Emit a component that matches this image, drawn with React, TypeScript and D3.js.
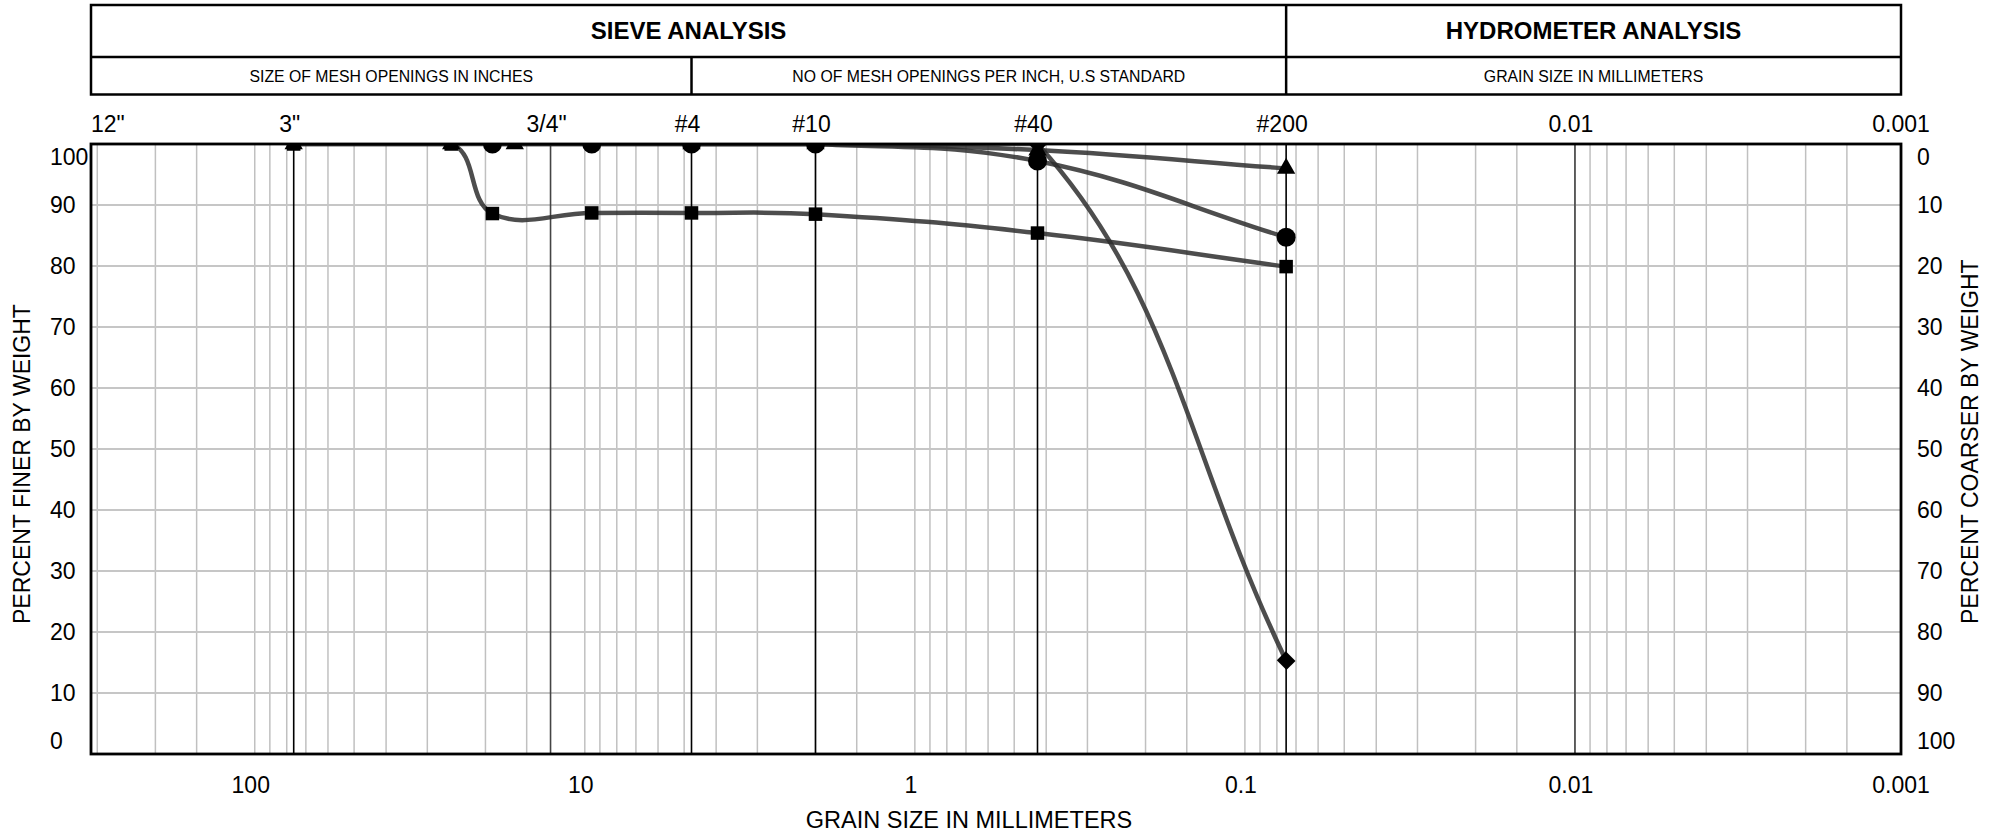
import React from 'react';
import * as d3 from 'd3';

// ---------- data ----------
const topLabels = ['12"', '3"', '3/4"', '#4', '#10', '#40', '#200', '0.01', '0.001'];
const topLabelSizes = [304.8, 76.2, 12.7, 4.75, 2.0, 0.425, 0.075, 0.01, 0.001];
const sieveLinesBlack = [76.2, 4.75, 2.0, 0.425, 0.075];
const sieveLinesDark = [12.7, 0.01];
const bottomTickValues = [100, 10, 1, 0.1, 0.01, 0.001];
const bottomTickLabels = ['100', '10', '1', '0.1', '0.01', '0.001'];
const yTickValues = [0, 10, 20, 30, 40, 50, 60, 70, 80, 90, 100];
const gridMultipliers = [1, 1.5, 2, 3, 4, 5, 6, 7, 8, 9];
const gridDecades = [-3, -2, -1, 0, 1, 2];

const squareSizes = [76.2, 25.4, 19.05, 9.525, 4.75, 2.0, 0.425, 0.075];
const squareFiner = [100, 100, 88.6, 88.7, 88.7, 88.5, 85.4, 79.9];
const circleSizes = [19.05, 9.525, 4.75, 2.0, 0.425, 0.075];
const circleFiner = [100, 100, 100, 100, 97.2, 84.7];
const triangleSizes = [76.2, 25.4, 16.3, 4.75, 2.0, 0.425, 0.075];
const triangleFiner = [100, 100, 100, 100, 100, 99, 96];
const diamondSizes = [4.75, 2.0, 0.425, 0.075];
const diamondFiner = [100, 100, 100, 15.3];

const FONT = '"Liberation Sans", Arial, sans-serif';

// Chart.js-style tension spline as a d3 curve factory (control points capped to area)
function splineCurve(tension: number, x0: number, x1: number, y0: number, y1: number) {
  const cx = (v: number) => Math.max(x0, Math.min(x1, v));
  const cy = (v: number) => Math.max(y0, Math.min(y1, v));
  return (context: any) => {
    let pts: [number, number][] = [];
    return {
      areaStart() {},
      areaEnd() {},
      lineStart() { pts = []; },
      point(x: number, y: number) { pts.push([+x, +y]); },
      lineEnd() {
        const n = pts.length;
        if (!n) return;
        const cps = pts.map((p, i) => {
          const prev = pts[i - 1] || p;
          const next = pts[i + 1] || p;
          const d01 = Math.hypot(p[0] - prev[0], p[1] - prev[1]);
          const d12 = Math.hypot(next[0] - p[0], next[1] - p[1]);
          let s01 = d01 / (d01 + d12);
          let s12 = d12 / (d01 + d12);
          if (isNaN(s01)) s01 = 0;
          if (isNaN(s12)) s12 = 0;
          const fa = tension * s01, fb = tension * s12;
          return {
            prev: [cx(p[0] - fa * (next[0] - prev[0])), cy(p[1] - fa * (next[1] - prev[1]))],
            next: [cx(p[0] + fb * (next[0] - prev[0])), cy(p[1] + fb * (next[1] - prev[1]))],
          };
        });
        context.moveTo(pts[0][0], pts[0][1]);
        for (let i = 1; i < n; i++) {
          context.bezierCurveTo(cps[i - 1].next[0], cps[i - 1].next[1], cps[i].prev[0], cps[i].prev[1], pts[i][0], pts[i][1]);
        }
      },
    };
  };
}

export default function App() {
  const W = 1990, H = 835;
  const left = 91, right = 1901, top = 144, bottom = 754;
  const hTop = 5, hMid = 57, hBottom = 94.5;
  const labelShift = -4;

  const x = d3.scaleLog().domain([304.8, 0.001]).range([left + 4, right + 4]);
  const y = d3.scaleLinear().domain([0, 100]).range([bottom, top]);

  const gridVals: number[] = [];
  gridDecades.forEach((k) => gridMultipliers.forEach((m) => {
    const v = m * Math.pow(10, k);
    const px = x(v);
    if (px > left + 1 && px < right - 1) gridVals.push(v);
  }));

  const line = d3.line<[number, number]>()
    .x((d) => x(d[0]))
    .y((d) => y(d[1]))
    .curve(splineCurve(0.4, left, right, top, bottom) as any);

  const zip = (a: number[], b: number[]) => a.map((v, i) => [v, b[i]] as [number, number]);
  const series = [
    { pts: zip(squareSizes, squareFiner), shape: 'square' },
    { pts: zip(circleSizes, circleFiner), shape: 'circle' },
    { pts: zip(triangleSizes, triangleFiner), shape: 'triangle' },
    { pts: zip(diamondSizes, diamondFiner), shape: 'diamond' },
  ];

  const triPath = d3.symbol(d3.symbolTriangle, 145)() as string;
  const diaPath = d3.symbol(d3.symbolSquare, 180)() as string;

  const marker = (shape: string, d: [number, number], i: number) => {
    const px = x(d[0]);
    const py = y(d[1]);
    if (shape === 'square') return <rect key={i} x={px - 6.75} y={py - 6.75} width={13.5} height={13.5} fill="#000" />;
    if (shape === 'circle') return <circle key={i} cx={px} cy={py} r={9.5} fill="#000" />;
    if (shape === 'triangle') return <path key={i} d={triPath} transform={`translate(${px},${py})`} fill="#000" />;
    return <path key={i} d={diaPath} transform={`translate(${px},${py}) rotate(45) scale(1.02,0.95)`} fill="#000" />;
  };

  const divSieve = x(4.75);
  const divHydro = x(0.075);

  return (
    <svg width={W} height={H} style={{ position: 'absolute', left: 0, top: 0, display: 'block', background: '#fff' }} fontFamily={FONT}>
      <defs>
        <clipPath id="plotClip">
          <rect x={left} y={top} width={right - left} height={bottom - top} />
        </clipPath>
      </defs>

      {/* header box */}
      <rect x={left} y={hTop} width={right - left} height={hBottom - hTop} fill="none" stroke="#000" strokeWidth={2.5} />
      <line x1={left} x2={right} y1={hMid} y2={hMid} stroke="#000" strokeWidth={2.5} />
      <line x1={divHydro} x2={divHydro} y1={hTop} y2={hBottom} stroke="#000" strokeWidth={2.5} />
      <line x1={divSieve} x2={divSieve} y1={hMid} y2={hBottom} stroke="#000" strokeWidth={2.5} />
      <text x={(left + divHydro) / 2} y={39} textAnchor="middle" fontWeight="bold" fontSize={24}>SIEVE ANALYSIS</text>
      <text x={(divHydro + right) / 2} y={39} textAnchor="middle" fontWeight="bold" fontSize={24}>HYDROMETER ANALYSIS</text>
      <text x={(left + divSieve) / 2} y={81.5} textAnchor="middle" fontSize={15.8}>SIZE OF MESH OPENINGS IN INCHES</text>
      <text x={(divSieve + divHydro) / 2} y={81.5} textAnchor="middle" fontSize={15.8}>NO OF MESH OPENINGS PER INCH, U.S STANDARD</text>
      <text x={(divHydro + right) / 2} y={81.5} textAnchor="middle" fontSize={15.8}>GRAIN SIZE IN MILLIMETERS</text>

      {/* top labels */}
      {topLabels.map((t, i) => (
        <text key={t} x={i === 0 ? left : x(topLabelSizes[i]) + labelShift} y={132} textAnchor={i === 0 ? 'start' : 'middle'} fontSize={23}>{t}</text>
      ))}

      {/* grid + data */}
      <g clipPath="url(#plotClip)">
        {gridVals.map((v, i) => (
          <line key={'g' + i} x1={x(v)} x2={x(v)} y1={top} y2={bottom} stroke="#c0c0c0" strokeWidth={1.5} />
        ))}
        {yTickValues.filter((v) => v > 0 && v < 100).map((v) => (
          <line key={'h' + v} x1={left} x2={right} y1={y(v)} y2={y(v)} stroke="#c6c6c6" strokeWidth={2} />
        ))}
        {sieveLinesDark.map((v) => (
          <line key={'d' + v} x1={x(v)} x2={x(v)} y1={top} y2={bottom} stroke="#444" strokeWidth={1.6} />
        ))}
        {sieveLinesBlack.map((v) => (
          <line key={'b' + v} x1={x(v)} x2={x(v)} y1={top} y2={bottom} stroke="#000" strokeWidth={1.6} />
        ))}
        {series.map((s, i) => (
          <path key={'s' + i} d={line(s.pts) as string} fill="none" stroke="#2e2e2e" strokeOpacity={0.85} strokeWidth={4.5} />
        ))}
        {series.map((s, i) => (
          <g key={'m' + i}>{s.pts.map((d, j) => marker(s.shape, d, j))}</g>
        ))}
      </g>

      {/* plot border */}
      <rect x={left} y={top} width={right - left} height={bottom - top} fill="none" stroke="#000" strokeWidth={2.8} />

      {/* y labels */}
      {yTickValues.map((v) => {
        const yy = v === 100 ? y(v) + 13 : v === 0 ? y(v) - 13 : y(v);
        return (
          <g key={'yl' + v}>
            <text x={50} y={yy} dy="0.35em" fontSize={23}>{v}</text>
            <text x={1917} y={yy} dy="0.35em" fontSize={23}>{100 - v}</text>
          </g>
        );
      })}

      {/* bottom labels */}
      {bottomTickValues.map((v, i) => (
        <text key={'bl' + i} x={x(v) + labelShift} y={793} textAnchor="middle" fontSize={23}>{bottomTickLabels[i]}</text>
      ))}

      <text x={969} y={828} textAnchor="middle" fontSize={23.5}>GRAIN SIZE IN MILLIMETERS</text>
      <text transform={`translate(30,624) rotate(-90)`} textAnchor="start" fontSize={23}>PERCENT FINER BY WEIGHT</text>
      <text transform={`translate(1978,624) rotate(-90)`} textAnchor="start" fontSize={23}>PERCENT COARSER BY WEIGHT</text>
    </svg>
  );
}
